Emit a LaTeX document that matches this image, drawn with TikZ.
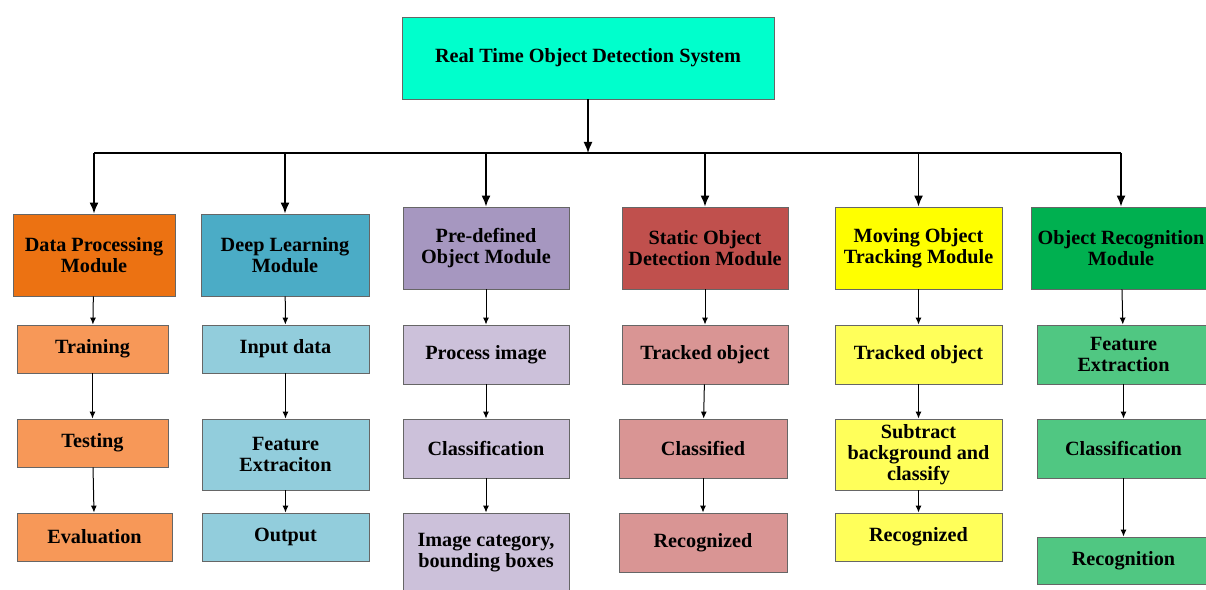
\documentclass[tikz,border=0pt]{standalone}
\usepackage{fontspec}
\setmainfont{Liberation Serif}
\usetikzlibrary{arrows.meta}

\definecolor{topc}{RGB}{0,255,204}
\definecolor{dpmod}{RGB}{236,114,18}
\definecolor{dpsub}{RGB}{247,152,88}
\definecolor{dlmod}{RGB}{75,172,198}
\definecolor{dlsub}{RGB}{146,205,220}
\definecolor{pdmod}{RGB}{166,151,192}
\definecolor{pdsub}{RGB}{204,193,218}
\definecolor{sdmod}{RGB}{192,80,77}
\definecolor{sdsub}{RGB}{217,149,148}
\definecolor{mtmod}{RGB}{255,255,0}
\definecolor{mtsub}{RGB}{255,255,90}
\definecolor{ormod}{RGB}{0,176,80}
\definecolor{orsub}{RGB}{80,199,130}

\begin{document}
\begin{tikzpicture}[x=0.02cm, y=-0.02cm,
	box/.style={draw=black!60, line width=0.5pt, align=center, inner sep=1pt,
		font=\fontsize{11.5}{11.8}\selectfont\bfseries},
	modbox/.style={box, minimum height=1.64cm},
	bigarr/.style={line width=0.3mm, -{Latex[length=2.2mm, width=1.8mm]}},
	subarr/.style={line width=0.2mm, -{Latex[length=1.4mm, width=1.2mm]}}]
	
	\useasboundingbox (0,0) rectangle (1206,590);
	
	% top
	\node[box, fill=topc, minimum width=7.44cm, minimum height=1.64cm] (rtod) at (588,58) {Real Time Object Detection System};
	
	% modules
	\node[modbox, fill=dpmod, minimum width=3.24cm] (dp) at (94,255) {Data Processing\\Module};
	\node[modbox, fill=dlmod, minimum width=3.36cm] (dl) at (285,255) {Deep Learning\\Module};
	\node[modbox, fill=pdmod, minimum width=3.32cm] (pd) at (486,248) {Pre-defined\\Object Module};
	\node[modbox, fill=sdmod, minimum width=3.32cm] (sd) at (705,248) {Static Object\\Detection Module};
	\node[modbox, fill=mtmod, minimum width=3.34cm] (mt) at (918.5,248) {Moving Object\\Tracking Module};
	\node[modbox, fill=ormod, minimum width=3.60cm] (or) at (1121,248) {Object Recognition\\Module};
	
	% data processing
	\node[box, fill=dpsub, minimum width=3.02cm, minimum height=0.96cm] (train) at (92.5,349) {Training};
	\node[box, fill=dpsub, minimum width=3.02cm, minimum height=0.96cm] (test) at (92.5,443) {Testing};
	\node[box, fill=dpsub, minimum width=3.10cm, minimum height=0.96cm] (eval) at (94.5,537) {Evaluation};
	
	% deep learning
	\node[box, fill=dlsub, minimum width=3.34cm, minimum height=0.96cm] (input) at (285.5,349) {Input data};
	\node[box, fill=dlsub, minimum width=3.34cm, minimum height=1.42cm] (featdl) at (285.5,454.5) {Feature\\Extraciton};
	\node[box, fill=dlsub, minimum width=3.34cm, minimum height=0.96cm] (output) at (285.5,537) {Output};
	
	% pre-defined
	\node[box, fill=pdsub, minimum width=3.32cm, minimum height=1.18cm] (proc) at (486,354.5) {Process image};
	\node[box, fill=pdsub, minimum width=3.32cm, minimum height=1.18cm] (clspd) at (486,448.5) {Classification};
	\node[box, fill=pdsub, minimum width=3.32cm, minimum height=1.58cm] (imgcat) at (486,552.5) {Image category,\\bounding boxes};
	
	% static
	\node[box, fill=sdsub, minimum width=3.32cm, minimum height=1.18cm] (tracksd) at (705,354.5) {Tracked object};
	\node[box, fill=sdsub, minimum width=3.36cm, minimum height=1.18cm] (clsf) at (703,448.5) {Classified};
	\node[box, fill=sdsub, minimum width=3.36cm, minimum height=1.18cm] (recsd) at (703,542.5) {Recognized};
	
	% moving
	\node[box, fill=mtsub, minimum width=3.34cm, minimum height=1.18cm] (trackmt) at (918.5,354.5) {Tracked object};
	\node[box, fill=mtsub, minimum width=3.34cm, minimum height=1.42cm] (subtr) at (918.5,454.5) {Subtract\\background and\\classify};
	\node[box, fill=mtsub, minimum width=3.34cm, minimum height=0.96cm] (recmt) at (918.5,537) {Recognized};
	
	% recognition
	\node[box, fill=orsub, minimum width=3.46cm, minimum height=1.18cm] (feator) at (1123.5,354.5) {Feature\\Extraction};
	\node[box, fill=orsub, minimum width=3.46cm, minimum height=1.18cm] (clsor) at (1123.5,448.5) {Classification};
	\node[box, fill=orsub, minimum width=3.46cm, minimum height=0.94cm] (recog) at (1123.5,560.5) {Recognition};
	
	% tree lines
	\coordinate (bus) at (0,153);
	\draw[bigarr] (rtod.south) -- (rtod.south |- bus);
	\draw[line width=0.3mm] (dp.north |- bus) -- (or.north |- bus);
	\foreach \m in {dp,dl,pd,sd,mt,or}
		\draw[bigarr] (\m.north |- bus) -- (\m.north);
	
	\draw[subarr] (dp) -- (train);
	\draw[subarr] (train) -- (test);
	\draw[subarr] (test) -- (eval);
	\draw[subarr] (dl) -- (input);
	\draw[subarr] (input) -- (featdl);
	\draw[subarr] (featdl) -- (output);
	\draw[subarr] (pd) -- (proc);
	\draw[subarr] (proc) -- (clspd);
	\draw[subarr] (clspd) -- (imgcat);
	\draw[subarr] (sd) -- (tracksd);
	\draw[subarr] (tracksd) -- (clsf);
	\draw[subarr] (clsf) -- (recsd);
	\draw[subarr] (mt) -- (trackmt);
	\draw[subarr] (trackmt) -- (subtr);
	\draw[subarr] (subtr) -- (recmt);
	\draw[subarr] (or) -- (feator);
	\draw[subarr] (feator) -- (clsor);
	\draw[subarr] (clsor) -- (recog);
	
\end{tikzpicture}
\end{document}
